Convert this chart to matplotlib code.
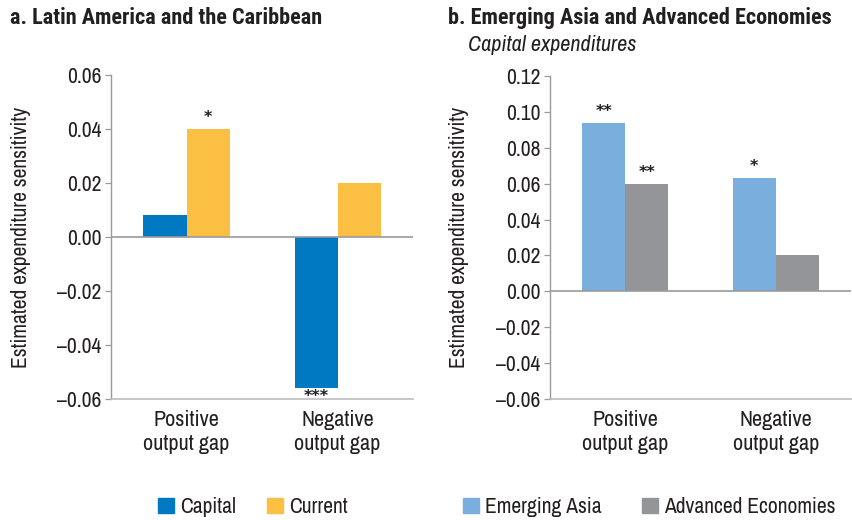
import matplotlib
matplotlib.use("Agg")
import matplotlib.pyplot as plt
from matplotlib.patches import Patch
from matplotlib import font_manager

_fonts = font_manager.fontManager.ttflist


def pick(candidates, weight=400, style="normal"):
    for name in candidates:
        for f in _fonts:
            w = f.weight if isinstance(f.weight, int) else 400
            if f.name == name and f.style == style and abs(w - weight) <= 100:
                return name
    return "DejaVu Sans"


BODY = pick(["Liberation Sans Narrow", "Archivo Narrow", "Roboto Condensed", "DejaVu Sans"])
BOLD = pick(["Liberation Sans Narrow", "Roboto Condensed", "Archivo Narrow", "PT Sans Narrow",
             "IBM Plex Sans Condensed", "Fira Sans Condensed"], weight=700)
ITAL = pick(["Liberation Sans Narrow", "Archivo Narrow", "Roboto Condensed", "IBM Plex Sans Condensed"],
            style="italic")
plt.rcParams["font.family"] = [BODY, "DejaVu Sans"]

# Data
categories = ["Positive\noutput gap", "Negative\noutput gap"]
yticks_a = [0.06, 0.04, 0.02, 0.00, -0.02, -0.04, -0.06]
yticks_b = [0.12, 0.10, 0.08, 0.06, 0.04, 0.02, 0.00, -0.02, -0.04, -0.06]

lac_capital = [0.008, -0.056]
lac_current = [0.040, 0.020]
lac_capital_sig = ["", "***"]
lac_current_sig = ["*", ""]

ea_capital = [0.094, 0.063]
ae_capital = [0.060, 0.020]
ea_sig = ["**", "*"]
ae_sig = ["**", ""]

C_CAPITAL = "#0079C2"
C_CURRENT = "#FBC043"
C_EA = "#7AAEDD"
C_AE = "#939598"
AXIS_GRAY = "#9A9A9A"
TEXT = "#231F20"
FS = 15.5

fig = plt.figure(figsize=(8.52, 5.2), dpi=100)
ax_a = fig.add_axes([0.1303, 0.2327, 0.3545, 0.623])
ax_b = fig.add_axes([0.6455, 0.2327, 0.3533, 0.6211])

W = 0.285
x = range(len(categories))


def fmt(v):
    s = f"{v:.2f}"
    return s.replace("-", "\u2013")


def style(ax, ticks, lo, hi):
    ax.set_ylim(lo, hi)
    ax.set_xlim(-0.5, 1.5)
    ax.set_yticks(ticks)
    ax.set_yticklabels([fmt(t) for t in ticks], fontsize=FS, color=TEXT)
    ax.set_xticks(list(x))
    ax.set_xticklabels(categories, fontsize=16, color=TEXT, linespacing=1.25)
    ax.tick_params(axis="x", length=0, pad=8)
    ax.tick_params(axis="y", length=4, width=0.9, color=AXIS_GRAY, pad=3)
    for s in ("top", "right"):
        ax.spines[s].set_visible(False)
    ax.spines["left"].set_color(AXIS_GRAY)
    ax.spines["left"].set_linewidth(1.0)
    ax.spines["bottom"].set_color("#BDBDBD")
    ax.spines["bottom"].set_linewidth(1.2)
    ax.axhline(0, color=AXIS_GRAY, lw=1.2, zorder=3)
    ax.set_ylabel("Estimated expenditure sensitivity", fontsize=FS, color=TEXT)


def stars(ax, xs, vals, sigs, off):
    for xi, v, s in zip(xs, vals, sigs):
        if not s:
            continue
        kw = dict(ha="center", fontsize=11.5, fontweight="bold", color=TEXT, zorder=4,
                  family="DejaVu Sans")
        if v >= 0:
            ax.text(xi, v + off, s, va="bottom", **kw)
        else:
            ax.text(xi, v - off * 0.3, s, va="top", **kw)


# Panel a: Latin America and the Caribbean
xa1 = [i - W / 2 for i in x]
xa2 = [i + W / 2 for i in x]
ax_a.bar(xa1, lac_capital, W, color=C_CAPITAL, zorder=2)
ax_a.bar(xa2, lac_current, W, color=C_CURRENT, zorder=2)
style(ax_a, yticks_a, -0.06, 0.06)
stars(ax_a, xa1, lac_capital, lac_capital_sig, 0.0015)
stars(ax_a, xa2, lac_current, lac_current_sig, 0.0015)

# Panel b: Emerging Asia and Advanced Economies
ax_b.bar(xa1, ea_capital, W, color=C_EA, zorder=2)
ax_b.bar(xa2, ae_capital, W, color=C_AE, zorder=2)
style(ax_b, yticks_b, -0.06, 0.12)
stars(ax_b, xa1, ea_capital, ea_sig, 0.0022)
stars(ax_b, xa2, ae_capital, ae_sig, 0.0022)

ax_a.yaxis.set_label_coords(-0.265, 0.5)
ax_b.yaxis.set_label_coords(-0.27, 0.5)

# Titles
fig.text(10 / 852, 1 - 18 / 520, "a. Latin America and the Caribbean", fontsize=16,
         fontweight="bold", family=[BOLD, "DejaVu Sans"], color=TEXT, ha="left", va="center")
fig.text(448 / 852, 1 - 18 / 520, "b. Emerging Asia and Advanced Economies", fontsize=16,
         fontweight="bold", family=[BOLD, "DejaVu Sans"], color=TEXT, ha="left", va="center")
fig.text(468 / 852, 1 - 45 / 520, "Capital expenditures", fontsize=16,
         fontstyle="italic", family=[ITAL, "DejaVu Sans"], color=TEXT, ha="left", va="center")

# Legends, one entry each so every key sits at its own place
leg_kw = dict(loc="center left", frameon=False, fontsize=FS, handlelength=0.72,
              handleheight=0.72, handletextpad=0.3, borderaxespad=0, borderpad=0,
              labelcolor=TEXT)
legend_entries = [
    (C_CAPITAL, "Capital", 158),
    (C_CURRENT, "Current", 267),
    (C_EA, "Emerging Asia", 463),
    (C_AE, "Advanced Economies", 642),
]
for color, label, xpix in legend_entries:
    leg = fig.legend([Patch(color=color)], [label],
                     bbox_to_anchor=(xpix / 852, 1 - 507 / 520), **leg_kw)

fig.savefig("out.png", dpi=100, facecolor="white")
